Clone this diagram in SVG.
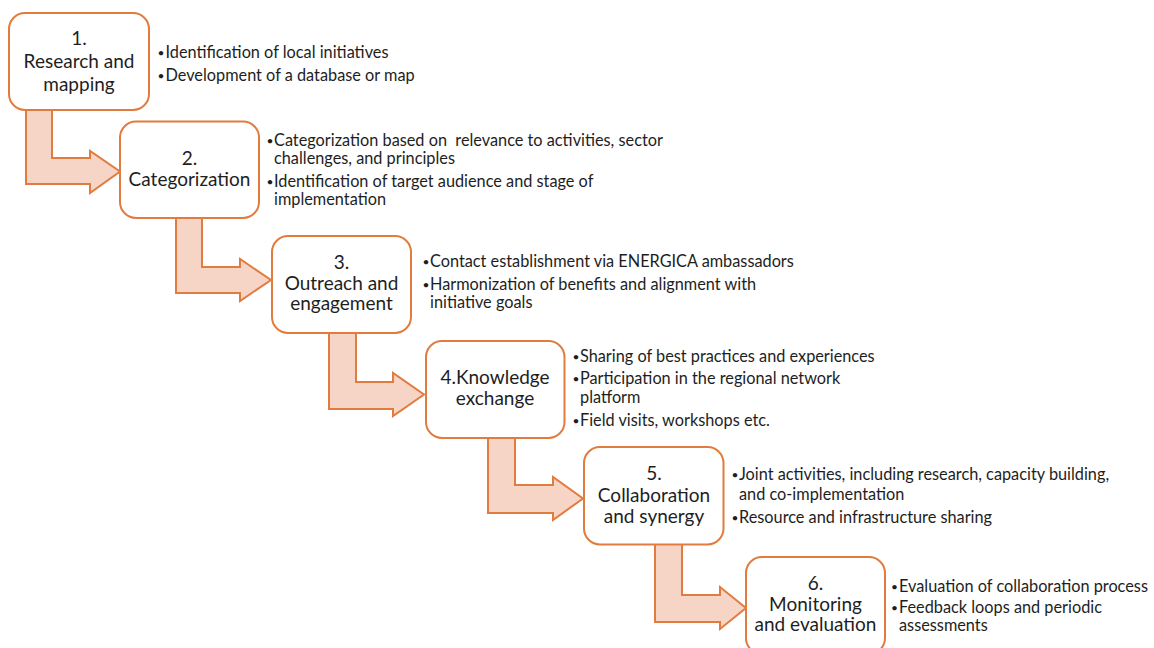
<svg xmlns="http://www.w3.org/2000/svg" width="1154" height="648" viewBox="0 0 1154 648">
  <style>
    .box { fill: #ffffff; stroke: #E27C3E; stroke-width: 2; }
    .arrow { fill: #F7D5C6; stroke: #E27C3E; stroke-width: 2; stroke-linejoin: miter; }
    .label { font-family: Lato, "Liberation Sans", sans-serif; font-size: 19px; fill: #1e1e1e; text-anchor: middle; }
    .note { font-family: Lato, "Liberation Sans", sans-serif; font-size: 16.3px; fill: #1e1e1e; white-space: pre; }
    .dot { font-family: Lato, "Liberation Sans", sans-serif; font-size: 12px; fill: #1e1e1e; }
  </style>

  <!-- bent block arrows between consecutive steps -->
  <g id="connectors">
    <path class="arrow" d="M26,108 L52,108 L52,158 L90,158 L90,151 L120,171.5 L90,193 L90,184 L26,184 Z"/>
    <path class="arrow" d="M176,216 L202,216 L202,267 L240,267 L240,259 L271,280 L240,301 L240,293 L176,293 Z"/>
    <path class="arrow" d="M329,331 L356,331 L356,382 L393,382 L393,373 L424,394.5 L393,416 L393,409 L329,409 Z"/>
    <path class="arrow" d="M488,436 L515,436 L515,485 L553,485 L553,477 L583,498.5 L553,520 L553,513 L488,513 Z"/>
    <path class="arrow" d="M655,543 L682,543 L682,595 L720,595 L720,587 L746,608 L720,629 L720,622 L655,622 Z"/>
  </g>

  <g id="step1">
    <rect class="box" x="9" y="13" width="140" height="97" rx="16"/>
    <text class="label" x="79" y="45">1.</text>
    <text class="label" x="79" y="68">Research and</text>
    <text class="label" x="79" y="90.5">mapping</text>
    <text class="dot" x="157.5" y="57">•</text>
    <text class="note" x="165.5" y="58">Identification of local initiatives</text>
    <text class="dot" x="157.5" y="80">•</text>
    <text class="note" x="165.5" y="81">Development of a database or map</text>
  </g>

  <g id="step2">
    <rect class="box" x="120" y="121.5" width="139" height="96.5" rx="16"/>
    <text class="label" x="189.5" y="165">2.</text>
    <text class="label" x="189.5" y="185.5">Categorization</text>
    <text class="dot" x="266.5" y="145">•</text>
    <text class="note" x="274" y="146">Categorization based on  relevance to activities, sector</text>
    <text class="note" x="274" y="164">challenges, and principles</text>
    <text class="dot" x="266.5" y="186">•</text>
    <text class="note" x="274" y="187">Identification of target audience and stage of</text>
    <text class="note" x="274" y="205">implementation</text>
  </g>

  <g id="step3">
    <rect class="box" x="272" y="236" width="139" height="97" rx="16"/>
    <text class="label" x="341.5" y="269">3.</text>
    <text class="label" x="341.5" y="290">Outreach and</text>
    <text class="label" x="341.5" y="310">engagement</text>
    <text class="dot" x="422.5" y="266">•</text>
    <text class="note" x="430" y="267">Contact establishment via ENERGICA ambassadors</text>
    <text class="dot" x="422.5" y="288.5">•</text>
    <text class="note" x="430" y="289.5">Harmonization of benefits and alignment with</text>
    <text class="note" x="430" y="308">initiative goals</text>
  </g>

  <g id="step4">
    <rect class="box" x="426" y="341" width="138.5" height="97" rx="16"/>
    <text class="label" x="495" y="384">4.Knowledge</text>
    <text class="label" x="495" y="405">exchange</text>
    <text class="dot" x="572.5" y="361">•</text>
    <text class="note" x="580" y="362">Sharing of best practices and experiences</text>
    <text class="dot" x="572.5" y="383">•</text>
    <text class="note" x="580" y="384">Participation in the regional network</text>
    <text class="note" x="580" y="403">platform</text>
    <text class="dot" x="572.5" y="425">•</text>
    <text class="note" x="580" y="426">Field visits, workshops etc.</text>
  </g>

  <g id="step5">
    <rect class="box" x="584" y="447" width="139.5" height="97.5" rx="16"/>
    <text class="label" x="654" y="480">5.</text>
    <text class="label" x="654" y="502">Collaboration</text>
    <text class="label" x="654" y="523">and synergy</text>
    <text class="dot" x="731.5" y="479">•</text>
    <text class="note" x="739" y="480">Joint activities, including research, capacity building,</text>
    <text class="note" x="739" y="500">and co-implementation</text>
    <text class="dot" x="731.5" y="522">•</text>
    <text class="note" x="739" y="523">Resource and infrastructure sharing</text>
  </g>

  <g id="step6">
    <rect class="box" x="746" y="557" width="139" height="97" rx="16"/>
    <text class="label" x="815.5" y="590">6.</text>
    <text class="label" x="815.5" y="611">Monitoring</text>
    <text class="label" x="815.5" y="631">and evaluation</text>
    <text class="dot" x="891" y="591">•</text>
    <text class="note" x="899" y="592">Evaluation of collaboration process</text>
    <text class="dot" x="891" y="612">•</text>
    <text class="note" x="899" y="613">Feedback loops and periodic</text>
    <text class="note" x="899" y="631">assessments</text>
  </g>
</svg>
